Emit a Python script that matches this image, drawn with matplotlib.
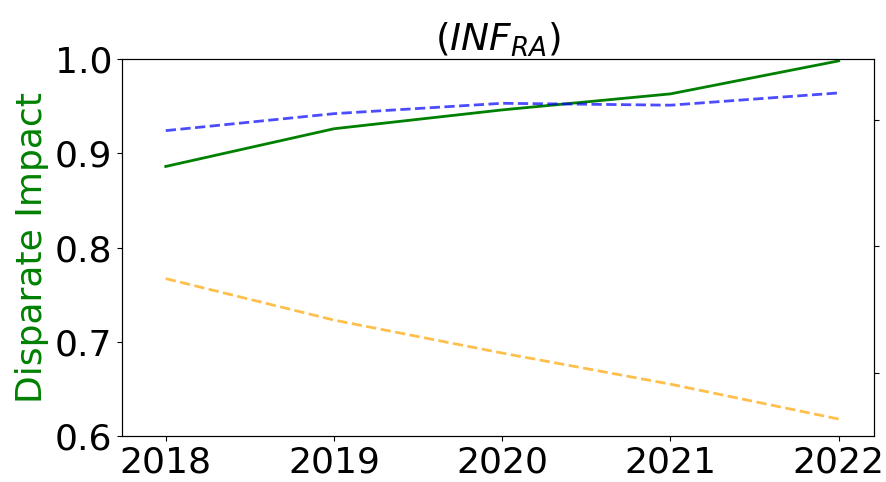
import matplotlib
matplotlib.use("Agg")
import matplotlib.pyplot as plt

years = [2018, 2019, 2020, 2021, 2022]
di_green = [0.886, 0.926, 0.946, 0.963, 0.998]
di_blue = [0.924, 0.942, 0.953, 0.951, 0.964]
di_orange = [0.767, 0.723, 0.688, 0.655, 0.618]

fig = plt.figure(figsize=(8.86, 4.82), dpi=100)
ax = fig.add_axes([0.1377, 0.0954, 0.8488, 0.7822])

ax.plot(years, di_green, color='green', lw=2)
ax.plot(years, di_blue, color='blue', ls='--', lw=2, alpha=0.7)
ax.plot(years, di_orange, color='orange', ls='--', lw=2, alpha=0.7)

ax.set_ylim(0.6, 1.0)
ax.set_xlim(2017.74, 2022.21)
ax.set_xticks(years)
ax.set_yticks([0.6, 0.7, 0.8, 0.9, 1.0])
ax.tick_params(labelsize=26)
ax.set_ylabel('Disparate Impact', color='green', fontsize=26, labelpad=4)
ax.set_title('$(INF_{RA})$', fontsize=27)

# second axis: only its ticks show, its labels fall past the right edge
ax2 = ax.twinx()
ax2.set_ylim(0.1004, 0.6964)
ax2.set_yticks([0.2, 0.4, 0.6])
ax2.tick_params(labelright=False)

fig.savefig('out.png', dpi=100)
